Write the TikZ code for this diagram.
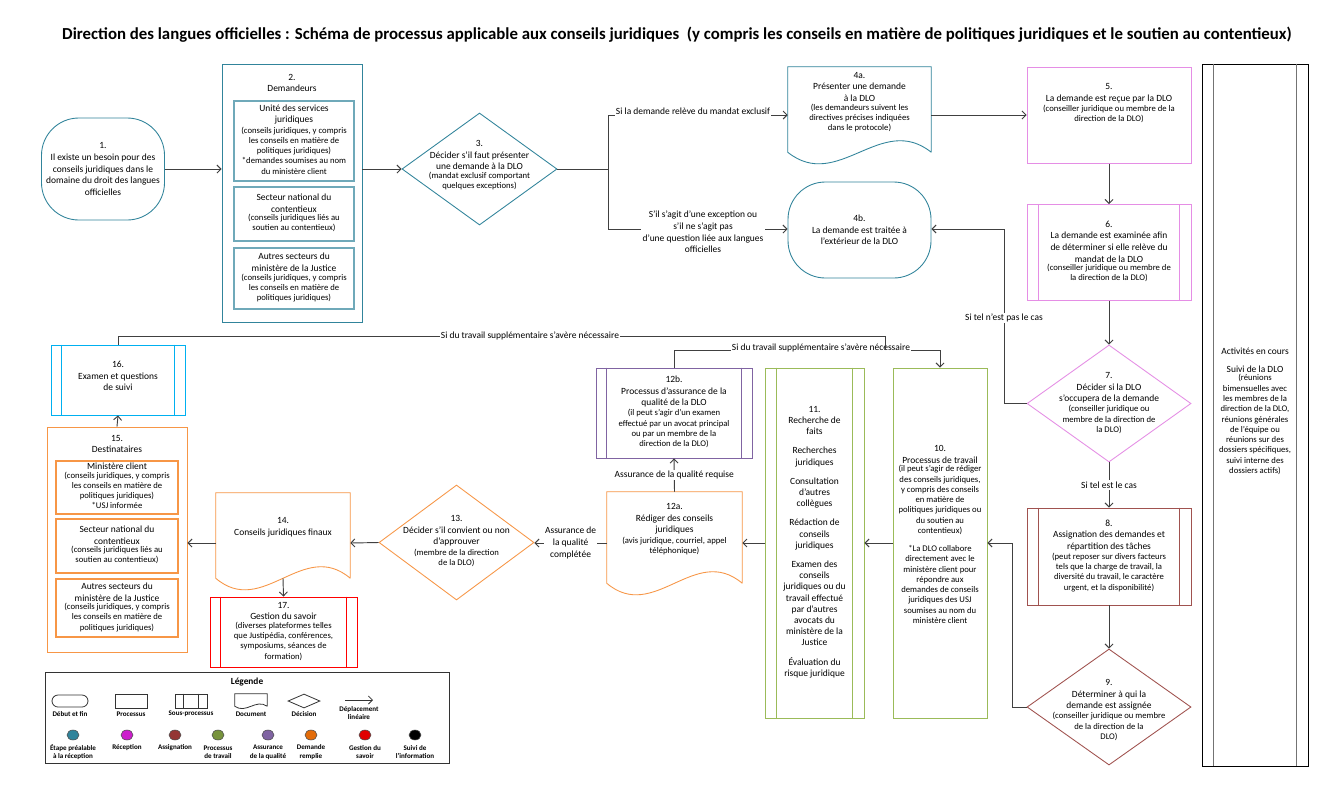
\documentclass[tikz,border=0pt]{standalone}
\usepackage{fontspec}
\setmainfont{Carlito}
\usetikzlibrary{shapes.geometric,calc,arrows.meta}
\definecolor{cteal}{HTML}{31849B}
\definecolor{cpink}{HTML}{E58EE5}
\definecolor{cbrown}{HTML}{A0524F}
\definecolor{cgreen}{HTML}{9BBB59}
\definecolor{cpurple}{HTML}{8064A2}
\definecolor{corange}{HTML}{F79646}
\definecolor{cred}{HTML}{FF0000}
\definecolor{cblue}{HTML}{00B0F0}
\definecolor{cline}{HTML}{404040}
\definecolor{lteal}{HTML}{31849B}
\definecolor{lmag}{HTML}{CC1FCC}
\definecolor{lbrown}{HTML}{943634}
\definecolor{lgreen}{HTML}{77933C}
\definecolor{lpurple}{HTML}{8064A2}
\definecolor{lorange}{HTML}{E36C09}
\definecolor{lred}{HTML}{E00000}
\newcommand\smb[1]{{\fontsize{6.5}{7.7}\selectfont\begin{tabular}{@{}c@{}}#1\end{tabular}}}
\newcommand\docshape[3]{\draw[shp,#2] (#1.south east) -- (#1.north east) -- (#1.north west) -- (#1.south west)
  .. controls ($(#1.south west)!0.35!(#1.south east)+(0,#3)$) and ($(#1.south west)!0.65!(#1.south east)+(0,-#3)$) .. (#1.south east);}
\newcommand\subl[3]{\draw[#3] ([xshift=#2*0.75pt]#1.north west) -- ([xshift=#2*0.75pt]#1.south west);
  \draw[#3] ([xshift=-#2*0.75pt]#1.north east) -- ([xshift=-#2*0.75pt]#1.south east);}
\begin{document}
\begin{tikzpicture}[x=0.75pt,y=-0.75pt,
  shp/.style={draw, inner sep=0pt, line width=0.65pt},
  sz/.style 2 args={minimum width=#1*0.75pt, minimum height=#2*0.75pt},
  blank/.style={inner sep=0pt, draw=none},
  t/.style={align=center, font=\fontsize{7.1}{8.7}\selectfont, inner sep=0pt},
  lab/.style={fill=white, align=center, font=\fontsize{7.1}{8.7}\selectfont, inner sep=1pt},
  ln/.style={draw=cline, line width=0.7pt},
  arr/.style={ln, -{Straight Barb[length=3pt,width=6pt]}},
  lg/.style={align=center, font=\fontsize{5.3}{6.4}\selectfont\bfseries, inner sep=0pt},
  dot/.style={ellipse, draw=black!70, line width=0.4pt, minimum width=12*0.75pt, minimum height=10*0.75pt, inner sep=0pt}
]
\useasboundingbox (0,0) rectangle (1341,801);
\fill[white] (0,0) rectangle (1341,801);

\node[font=\fontsize{12.6}{14}\selectfont\bfseries, inner sep=0pt] (title) at (677,35) {Direction des langues officielles : Schéma de processus applicable aux conseils juridiques \ (y compris les conseils en matière de politiques juridiques et le soutien au contentieux)};

% 1
\node[shp, draw=cteal, sz={123}{102}, rounded corners=28pt] (n1) at (103,169) {};
\node[t] (t1) at (n1) {1.\\Il existe un besoin pour des\\conseils juridiques dans le\\domaine du droit des langues\\officielles};
% 2
\node[shp, draw=cteal, sz={140}{258}] (n2) at (292,193) {};
\node[t] (t2) at (292,83) {2.\\Demandeurs};
\node[shp, draw=cteal!70, line width=1pt, sz={120}{80}] (n2a) at (294,141) {};
\node[t] (t2a) at (n2a) {Unité des services\\juridiques\\\smb{(conseils juridiques, y compris\\les conseils en matière de\\politiques juridiques)\\\relax*demandes soumises au nom\\du ministère client}};
\node[shp, draw=cteal!70, line width=1pt, sz={120}{54}] (n2b) at (294,214) {};
\node[t] (t2b) at (n2b) {Secteur national du\\contentieux\\\smb{(conseils juridiques liés au\\soutien au contentieux)}};
\node[shp, draw=cteal!70, line width=1pt, sz={120}{61}] (n2c) at (294,278.5) {};
\node[t] (t2c) at (n2c) {Autres secteurs du\\ministère de la Justice\\\smb{(conseils juridiques, y compris\\les conseils en matière de\\politiques juridiques)}};
% 3
\node[shp, draw=cteal, diamond, sz={155}{112}] (n3) at (479.5,169) {};
\node[t] (t3) at (479.5,166) {3.\\Décider s’il faut présenter\\une demande à la DLO\\\smb{(mandat exclusif comportant\\quelques exceptions)}};
% 4a
\node[blank, sz={143}{85}] (n4a) at (859.5,109.5) {};
\docshape{n4a}{draw=cteal}{40}
\node[t] (t4a) at (859.5,103) {4a.\\Présenter une demande\\à la DLO\\\smb{(les demandeurs suivent les\\directives précises indiquées\\dans le protocole)}};
% 4b
\node[shp, draw=cteal, sz={143}{96}, rounded corners=28pt] (n4b) at (859.5,230) {};
\node[t] (t4b) at (n4b) {4b.\\La demande est traitée à\\l’extérieur de la DLO};
% 5
\node[shp, draw=cpink, sz={164}{96}] (n5) at (1109,115.5) {};
\node[t] (t5) at (1109,104) {5.\\La demande est reçue par la DLO\\\smb{(conseiller juridique ou membre de la\\direction de la DLO)}};
% 6
\node[shp, draw=cpink, sz={164}{96}] (n6) at (1109,252.5) {};
\subl{n6}{12}{draw=cpink, line width=0.65pt}
\node[t] (t6) at (n6) {6.\\La demande est examinée afin\\de déterminer si elle relève du\\mandat de la DLO\\\smb{(conseiller juridique ou membre de\\la direction de la DLO)}};
% 7
\node[shp, draw=cpink, diamond, sz={164}{117}] (n7) at (1109,403.5) {};
\node[t] (t7) at (1109,404) {7.\\Décider si la DLO\\s’occupera de la demande\\\smb{(conseiller juridique ou\\membre de la direction de\\la DLO)}};
% 8
\node[shp, draw=cbrown, sz={164}{97}] (n8) at (1109,556.5) {};
\subl{n8}{12}{draw=cbrown, line width=0.65pt}
\node[t] (t8) at (n8) {8.\\Assignation des demandes et\\répartition des tâches\\\smb{(peut reposer sur divers facteurs\\tels que la charge de travail, la\\diversité du travail, le caractère\\urgent, et la disponibilité)}};
% 9
\node[shp, draw=cbrown, diamond, sz={164}{116}] (n9) at (1109,707) {};
\node[t] (t9) at (1109,711) {9.\\Déterminer à qui la\\demande est assignée\\\smb{(conseiller juridique ou membre\\de la direction de la\\DLO)}};
% 10
\node[shp, draw=cgreen, sz={94}{350}] (n10) at (940,543) {};
\node[t] (t10) at (940,536) {10.\\Processus de travail\\\smb{(il peut s’agir de rédiger\\des conseils juridiques,\\y compris des conseils\\en matière de\\politiques juridiques ou\\du soutien au\\contentieux)\\[6pt]\relax*La DLO collabore\\directement avec le\\ministère client pour\\répondre aux\\demandes de conseils\\juridiques des USJ\\soumises au nom du\\ministère client}};
% 11
\node[shp, draw=cgreen, sz={99}{350}] (n11) at (814.5,543) {};
\subl{n11}{12}{draw=cgreen, line width=0.65pt}
\node[t, font=\fontsize{7.1}{8.4}\selectfont] (t11) at (814.5,542) {11.\\Recherche de\\faits\\[6pt]Recherches\\juridiques\\[6pt]Consultation\\d’autres\\collègues\\[6pt]Rédaction de\\conseils\\juridiques\\[6pt]Examen des\\conseils\\juridiques ou du\\travail effectué\\par d’autres\\avocats du\\ministère de la\\Justice\\[6pt]Évaluation du\\risque juridique};
% 12a
\node[blank, sz={135}{91}] (n12a) at (674.5,537.5) {};
\docshape{n12a}{draw=corange}{40}
\node[t] (t12a) at (674.5,530) {12a.\\Rédiger des conseils\\juridiques\\\smb{(avis juridique, courriel, appel\\téléphonique)}};
% 12b
\node[shp, draw=cpurple, sz={156}{90}] (n12b) at (674,413) {};
\subl{n12b}{11}{draw=cpurple, line width=0.65pt}
\node[t] (t12b) at (n12b) {12b.\\Processus d’assurance de la\\qualité de la DLO\\\smb{(il peut s’agir d’un examen\\effectué par un avocat principal\\ou par un membre de la\\direction de la DLO)}};
% 13
\node[shp, draw=corange, diamond, sz={155}{115}] (n13) at (456.5,542.5) {};
\node[t] (t13) at (456.5,542) {13.\\Décider s’il convient ou non\\d’approuver\\\smb{(membre de la direction\\de la DLO)}};
% 14
\node[blank, sz={134}{85}] (n14) at (283,535.5) {};
\docshape{n14}{draw=corange}{40}
\node[t] (t14) at (283,527) {14.\\Conseils juridiques finaux};
% 15
\node[shp, draw=corange, sz={140}{225}] (n15) at (117,539.5) {};
\node[t] (t15) at (117,444) {15.\\Destinataires};
\node[shp, draw=corange, line width=1pt, sz={122}{53}] (n15a) at (117,487.5) {};
\node[t] (t15a) at (n15a) {Ministère client\\\smb{(conseils juridiques, y compris\\les conseils en matière de\\politiques juridiques)\\\relax*USJ informée}};
\node[shp, draw=corange, line width=1pt, sz={122}{54}] (n15b) at (117,546) {};
\node[t] (t15b) at (n15b) {Secteur national du\\contentieux\\\smb{(conseils juridiques liés au\\soutien au contentieux)}};
\node[shp, draw=corange, line width=1pt, sz={122}{58}] (n15c) at (117,608) {};
\node[t] (t15c) at (n15c) {Autres secteurs du\\ministère de la Justice\\\smb{(conseils juridiques, y compris\\les conseils en matière de\\politiques juridiques)}};
% 16
\node[shp, draw=cblue, sz={134}{70}] (n16) at (118,380) {};
\subl{n16}{11}{draw=cblue, line width=0.65pt}
\node[t] (t16) at (118,376) {16.\\Examen et questions\\de suivi};
% 17
\node[shp, draw=cred, sz={147}{70}] (n17) at (283.5,632) {};
\subl{n17}{11}{draw=cred, line width=0.65pt}
\node[t] (t17) at (n17) {17.\\Gestion du savoir\\\smb{(diverses plateformes telles\\que Justipédia, conférences,\\symposiums, séances de\\formation)}};
% right column
\node[shp, draw=black, sz={106}{702}] (nR) at (1255,415) {};
\subl{nR}{12}{draw=black!55, line width=1.2pt}
\node[t] (tR) at (1255,412) {Activités en cours\\[5pt]Suivi de la DLO\\\smb{(réunions\\bimensuelles avec\\les membres de la\\direction de la DLO,\\réunions générales\\de l’équipe ou\\réunions sur des\\dossiers spécifiques,\\suivi interne des\\dossiers actifs)}};

% connectors
\coordinate (m1) at (0,169);
\draw[arr] (m1 -| n1.east) -- (m1 -| n2.west);
\draw[arr] (m1 -| n2.east) -- (n3.west);
\coordinate (bt) at (608,115);
\coordinate (bb) at (608,229);
\draw[arr] (n3.east) -| (bt) -- (bt -| n4a.west);
\draw[arr] (n3.east) -| (bb) -- (bb -| n4b.west);
\node[lab] (l1) at (693,111) {Si la demande relève du mandat exclusif};
\node[lab] (l2) at (703,232) {S’il s’agit d’une exception ou\\s’il ne s’agit pas\\d’une question liée aux langues\\officielles};
\draw[arr] (bt -| n4a.east) -- (bt -| n5.west);
\draw[arr] (n5.south) -- (n6.north);
\draw[arr] (n6.south) -- (n7.north);
\coordinate (c7) at (1004,229);
\draw[arr] (n7.west) -| (c7) -- (c7 -| n4b.east);
\node[lab] (l3) at (1004,318) {Si tel n’est pas le cas};
\draw[arr] (n7.south) -- node[lab] (l4) {Si tel est le cas} (n8.north);
\draw[arr] (n8.south) -- (n9.north);
\coordinate (c9) at (1012,543);
\draw[arr] (n9.west) -| (c9) -- (c9 -| n10.east);
\coordinate (m) at (0,543);
\draw[arr] (m -| n10.west) -- (m -| n11.east);
\draw[arr] (m -| n11.west) -- (m -| n12a.east);
\draw[arr] (m -| n12a.west) -- node[lab] (l5) {Assurance de\\la qualité\\complétée} (m -| n13.east);
\draw[arr] (n13.west) -- (m -| n14.east);
\draw[arr] (m -| n14.west) -- (m -| n15.east);
\draw[arr] (n12a.north) -- node[lab] (l6) {Assurance de la qualité requise} (n12b.south);
\draw[arr] (n14.south) -- (n17.north);
\draw[arr] (n15.north) -- (n16.south);
\coordinate (q2) at (940,350);
\draw[arr] (n12b.north) |- (q2) -- (n10.north);
\node[lab] (l7) at (821,348) {Si du travail supplémentaire s’avère nécessaire};
\coordinate (p2) at (885,336);
\draw[ln] (n16.north) |- (p2) -- (p2 |- q2);
\node[lab] (l8) at (530,336) {Si du travail supplémentaire s’avère nécessaire};

% legend
\node[shp, draw=black!80, sz={404}{91}] (nL) at (247,717.5) {};
\node[font=\fontsize{7}{8}\selectfont\bfseries, inner sep=0pt] (tL) at (247,682) {Légende};
\node[shp, draw=black!80, line width=0.6pt, sz={36}{12}, rounded corners=4.5pt] (g1) at (70,701) {};
\node[shp, draw=black!80, line width=0.6pt, sz={32}{14}] (g2) at (131,701) {};
\node[shp, draw=black!80, line width=0.6pt, sz={32}{14}] (g3) at (191,701) {};
\subl{g3}{9}{draw=black!80, line width=0.6pt}
\node[blank, sz={32}{12}] (g4) at (251,700) {};
\docshape{g4}{draw=black!80, line width=0.6pt}{8}
\node[shp, diamond, draw=black!80, line width=0.6pt, sz={32}{14}] (g5) at (304,701) {};
\coordinate (g6a) at (345,700);
\coordinate (g6b) at (373,700);
\draw[draw=black!80, line width=0.6pt, -{Straight Barb[length=3pt,width=6pt]}] (g6a) -- (g6b);
\node[lg] (lg1) at (70,714) {Début et fin};
\node[lg] (lg2) at (131,714) {Processus};
\node[lg] (lg3) at (191,714) {Sous-processus};
\node[lg] (lg4) at (251,714) {Document};
\node[lg] (lg5) at (304,714) {Décision};
\node[lg] (lg6) at (359,713) {Déplacement\\linéaire};
\node[dot, fill=lteal] (d1) at (73,735) {};
\node[dot, fill=lmag] (d2) at (127,735) {};
\node[dot, fill=lbrown] (d3) at (175,735) {};
\node[dot, fill=lgreen] (d4) at (218,735) {};
\node[dot, fill=lpurple] (d5) at (268,735) {};
\node[dot, fill=lorange] (d6) at (311,735) {};
\node[dot, fill=lred] (d7) at (365,735) {};
\node[dot, fill=black] (d8) at (415,735) {};
\node[lg] (e1) at (73,752) {Étape préalable\\à la réception};
\node[lg] (e2) at (127,748) {Réception};
\node[lg] (e3) at (175,748) {Assignation};
\node[lg] (e4) at (218,752) {Processus\\de travail};
\node[lg] (e5) at (268,752) {Assurance\\de la qualité};
\node[lg] (e6) at (311,752) {Demande\\remplie};
\node[lg] (e7) at (365,752) {Gestion du\\savoir};
\node[lg] (e8) at (415,752) {Suivi de\\l’information};
\end{tikzpicture}
\end{document}
